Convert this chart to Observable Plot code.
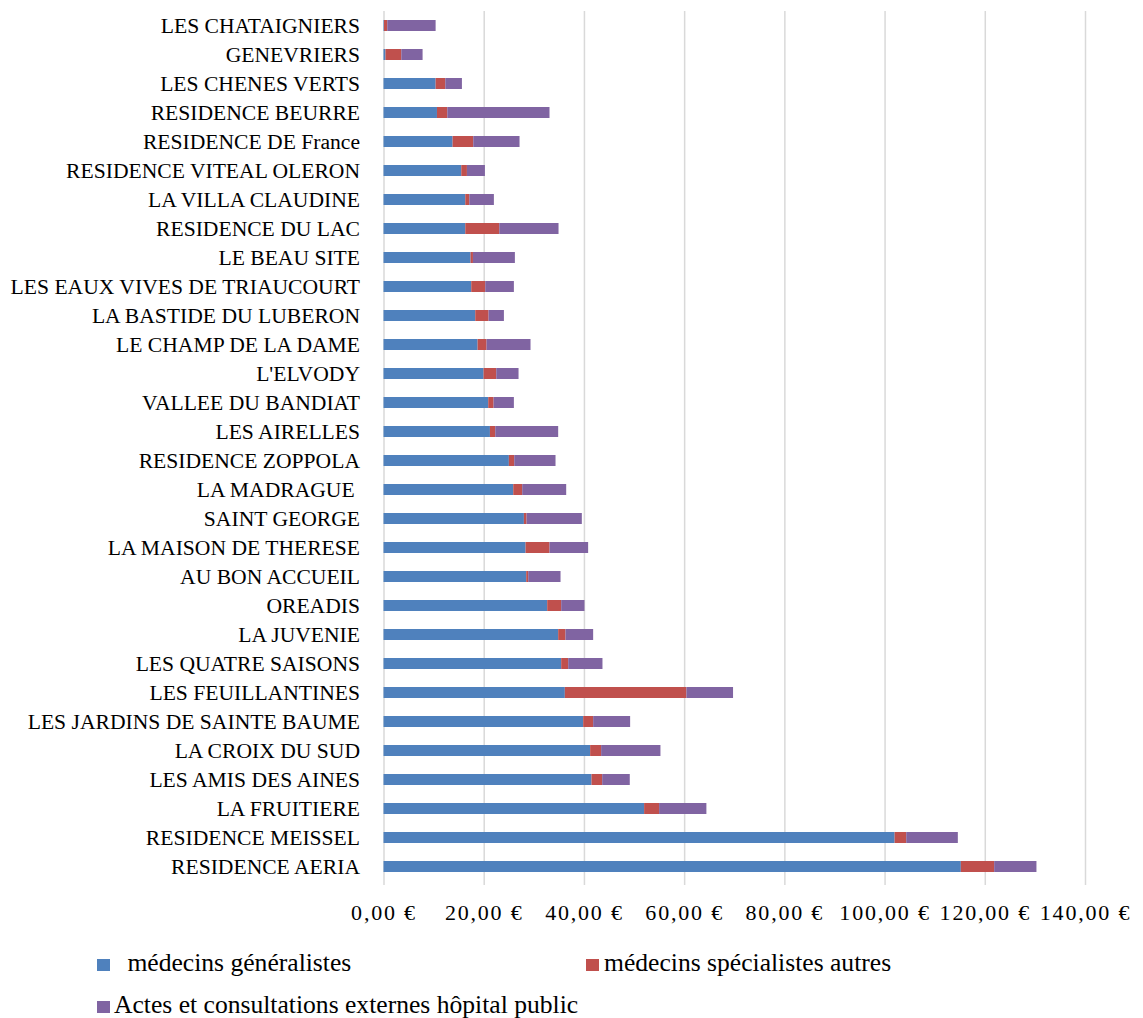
<!DOCTYPE html>
<html>
<head>
<meta charset="utf-8">
<script src="https://cdn.jsdelivr.net/npm/d3@7"></script>
<script src="https://cdn.jsdelivr.net/npm/@observablehq/plot@0.6"></script>
<style>
  html, body { margin: 0; padding: 0; background: #fff; }
  #wrap { position: relative; width: 1143px; height: 1018px; font-family: "Liberation Serif", "Times New Roman", serif; }
  #chart svg { display: block; }
  #chart g[aria-label="x-axis tick label"] text { letter-spacing: 1.8px; }
  .leg { position: absolute; font-size: 25.6px; line-height: 25px; color: #000; white-space: pre; }
  .sw { position: absolute; width: 13px; height: 12px; }
</style>
</head>
<body>
<div id="wrap">
  <div id="chart"></div>
  <div id="legend"></div>
</div>
<script>
const etablissements = [
  "LES CHATAIGNIERS", "GENEVRIERS", "LES CHENES VERTS", "RESIDENCE BEURRE",
  "RESIDENCE DE France", "RESIDENCE VITEAL OLERON", "LA VILLA CLAUDINE",
  "RESIDENCE DU LAC", "LE BEAU SITE", "LES EAUX VIVES DE TRIAUCOURT",
  "LA BASTIDE DU LUBERON", "LE CHAMP DE LA DAME", "L'ELVODY", "VALLEE DU BANDIAT",
  "LES AIRELLES", "RESIDENCE ZOPPOLA", "LA MADRAGUE\u00a0", "SAINT GEORGE",
  "LA MAISON DE THERESE", "AU BON ACCUEIL", "OREADIS", "LA JUVENIE",
  "LES QUATRE SAISONS", "LES FEUILLANTINES", "LES JARDINS DE SAINTE BAUME",
  "LA CROIX DU SUD", "LES AMIS DES AINES", "LA FRUITIERE", "RESIDENCE MEISSEL",
  "RESIDENCE AERIA"
];
const generalistes = [0.1, 0.4, 10.4, 10.67, 13.79, 15.52, 16.32, 16.32, 17.38, 17.51,
  18.31, 18.78, 19.97, 20.9, 21.24, 25.02, 25.89, 28.02, 28.35, 28.48,
  32.67, 34.86, 35.46, 36.19, 39.85, 41.24, 41.51, 52.01, 102.0, 115.22];
const specialistes = [0.65, 3.15, 1.93, 2.06, 4.12, 1.13, 0.8, 6.78, 0.47, 2.79,
  2.66, 1.79, 2.53, 1.07, 1.06, 1.07, 1.79, 0.53, 4.78, 0.4,
  2.79, 1.46, 1.4, 24.26, 1.99, 2.19, 2.13, 2.99, 2.32, 6.65];
const hopital = [9.65, 4.25, 3.32, 20.4, 9.24, 3.59, 4.91, 11.83, 8.37, 5.72,
  3.06, 8.77, 4.45, 4.05, 12.56, 8.24, 8.78, 11.03, 7.71, 6.45,
  4.65, 5.52, 6.84, 9.31, 7.38, 11.84, 5.51, 9.44, 10.3, 8.44];
const series = ["médecins généralistes", "médecins spécialistes autres", "Actes et consultations externes hôpital public"];
const colors = ["#4F81BD", "#C0504D", "#8064A2"];
const xTicks = [0, 20, 40, 60, 80, 100, 120, 140];

const valuesBySeries = [generalistes, specialistes, hopital];
const data = [];
etablissements.forEach((name, i) => {
  series.forEach((s, k) => data.push({name, serie: s, value: valuesBySeries[k][i]}));
});

const fmt = d => d.toFixed(2).replace(".", ",") + " €";

const chart = Plot.plot({
  width: 1143,
  height: 930,
  marginLeft: 383.5,
  marginRight: 58,
  marginTop: 11,
  marginBottom: 49,
  style: {fontFamily: "'Liberation Serif', 'Times New Roman', serif", fontSize: "21.6px", color: "#000", background: "#fff"},
  x: {domain: [0, 140], ticks: xTicks, label: null},
  y: {domain: etablissements, paddingInner: 0.61, paddingOuter: 0.305, label: null},
  color: {domain: series, range: colors},
  marks: [
    Plot.gridX(xTicks, {stroke: "#d9d9d9", strokeOpacity: 1, strokeWidth: 1.5}),
    Plot.barX(data, Plot.stackX({x: "value", y: "name", fill: "serie", order: null})),
    Plot.axisX(xTicks, {tickSize: 4, tickPadding: 19, stroke: "#d9d9d9", strokeOpacity: 1, strokeWidth: 1.5, tickFormat: fmt, fill: "#000", fontSize: 22, label: null}),
    Plot.axisY({tickSize: 0, tickPadding: 24, fill: "#000", fontSize: 21.6, label: null})
  ]
});
document.getElementById("chart").appendChild(chart);

// Legend (HTML, below the SVG)
const legend = document.getElementById("legend");
const legPos = [
  {sx: 97, sy: 959, tx: 121, ty: 950, text: "\u00a0" + series[0]},
  {sx: 586, sy: 959, tx: 604, ty: 950, text: series[1]},
  {sx: 97, sy: 1001, tx: 114, ty: 992, text: series[2]}
];
legPos.forEach((p, k) => {
  const sw = document.createElement("div");
  sw.className = "sw";
  sw.style.left = p.sx + "px"; sw.style.top = p.sy + "px";
  sw.style.background = colors[k];
  legend.appendChild(sw);
  const t = document.createElement("div");
  t.className = "leg";
  t.style.left = p.tx + "px"; t.style.top = p.ty + "px";
  t.textContent = p.text;
  legend.appendChild(t);
});
</script>
</body>
</html>
